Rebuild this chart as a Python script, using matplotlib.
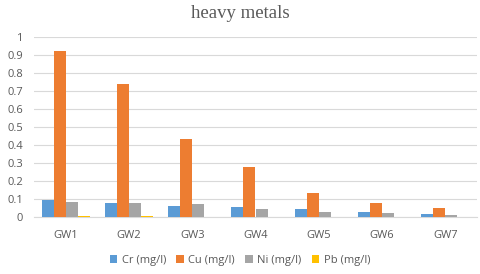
import matplotlib
matplotlib.use("Agg")
import matplotlib.pyplot as plt
import numpy as np

categories = ["GW1", "GW2", "GW3", "GW4", "GW5", "GW6", "GW7"]
series_names = ["Cr (mg/l)", "Cu (mg/l)", "Ni (mg/l)", "Pb (mg/l)"]
cr = [0.094, 0.076, 0.061, 0.057, 0.044, 0.026, 0.017]
cu = [0.92, 0.74, 0.435, 0.276, 0.131, 0.08, 0.048]
ni = [0.085, 0.076, 0.07, 0.043, 0.028, 0.02, 0.013]
pb = [0.008, 0.004, 0.0, 0.0, 0.0, 0.0, 0.0]
colors = ["#5B9BD5", "#ED7D31", "#A5A5A5", "#FFC000"]
yticks = [0, 0.1, 0.2, 0.3, 0.4, 0.5, 0.6, 0.7, 0.8, 0.9, 1]
ytick_labels = ["0", "0.1", "0.2", "0.3", "0.4", "0.5", "0.6", "0.7", "0.8", "0.9", "1"]

fig = plt.figure(figsize=(4.8, 2.74), dpi=100)
W, H = 480, 274
ax = fig.add_axes([34 / W, 1 - 217 / H, (477 - 34) / W, (217 - 37) / H])

x = np.arange(len(categories))
bw = 0.19
data = [cr, cu, ni, pb]
for i, (vals, name, c) in enumerate(zip(data, series_names, colors)):
    ax.bar(x + (i - 1.5) * bw, vals, width=bw, color=c, label=name, zorder=3)

ax.set_xlim(-0.5, len(categories) - 0.5)
ax.set_ylim(0, 1)
ax.set_yticks(yticks)
ax.set_yticklabels(ytick_labels)
ax.set_xticks(x)
ax.set_xticklabels(categories)
ax.grid(axis="y", color="#D9D9D9", linewidth=0.8, zorder=0)
for s in ["top", "right", "left"]:
    ax.spines[s].set_visible(False)
ax.spines["bottom"].set_color("#D9D9D9")
ax.tick_params(axis="both", length=0, colors="#595959", labelsize=8)
ax.tick_params(axis="x", pad=9)
ax.tick_params(axis="y", pad=8)
for lab in ax.get_xticklabels() + ax.get_yticklabels():
    lab.set_fontfamily("Open Sans")

fig.text(0.5, 1 - 14 / H, "heavy metals", ha="center", va="center",
         fontsize=13.5, color="#595959", family="Liberation Serif")

leg = fig.legend(loc="center", bbox_to_anchor=(0.5, 1 - 260 / H), ncol=4,
                 frameon=False, handlelength=0.7, handleheight=0.7,
                 handletextpad=0.4, columnspacing=0.9,
                 prop={"family": "Open Sans", "size": 8})
for t in leg.get_texts():
    t.set_color("#595959")

fig.savefig("out.png", dpi=100)
